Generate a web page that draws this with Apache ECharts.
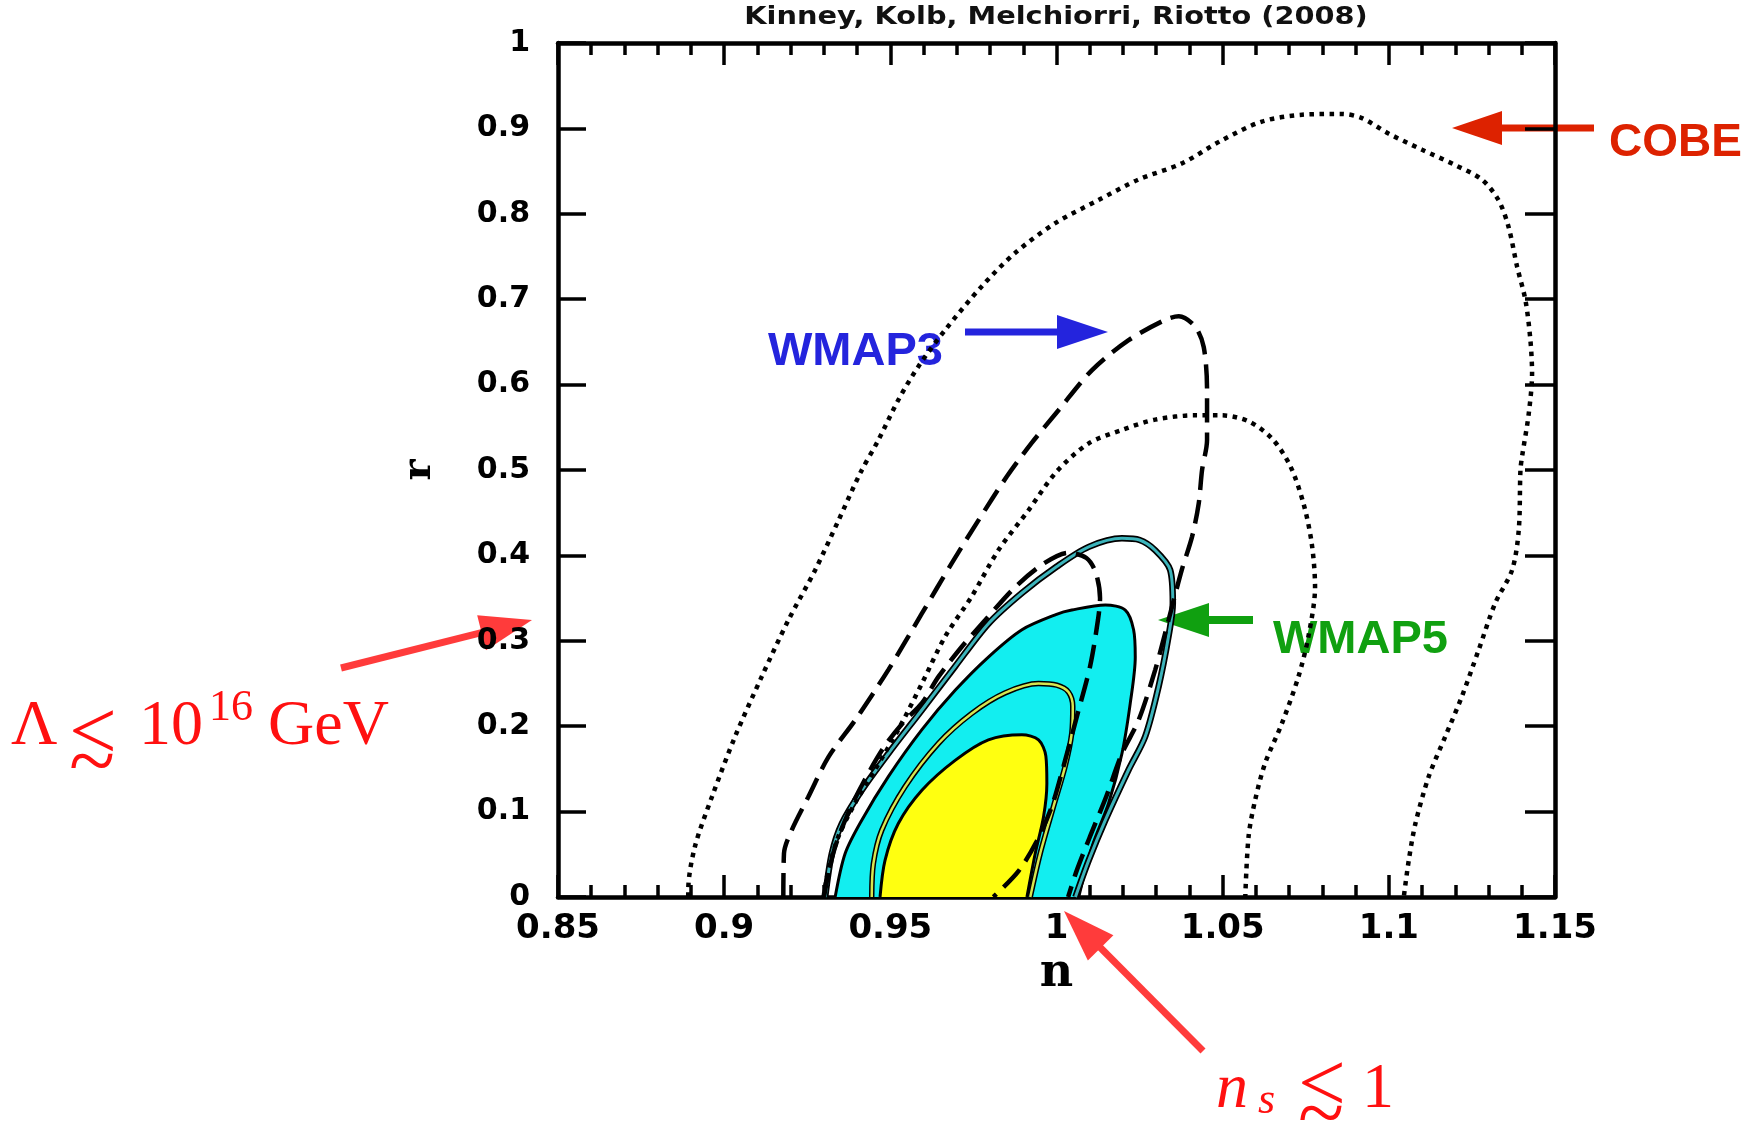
<!DOCTYPE html>
<html>
<head>
<meta charset="utf-8">
<script src="https://cdn.jsdelivr.net/npm/echarts@6/dist/echarts.min.js"></script>
<style>
  html, body { margin: 0; padding: 0; background: #fff; }
  #chart { width: 1750px; height: 1128px; }
</style>
</head>
<body>
<div id="chart"></div>
<script>
// axis ranges
const nRange = [0.85, 1.15]
const rRange = [0, 1]

// contours as [n, r]
const cobeOuter = [
  [0.8892, 0], [0.8892, 0.008], [0.8912, 0.059], [0.8963, 0.117], [0.9033, 0.188], [0.9113, 0.258],
  [0.9193, 0.324], [0.9274, 0.383], [0.9344, 0.441], [0.9409, 0.496], [0.9464, 0.535], [0.9524, 0.582],
  [0.9584, 0.621], [0.9665, 0.664], [0.9775, 0.715], [0.9875, 0.754], [0.9996, 0.789], [1.0126, 0.816],
  [1.0246, 0.840], [1.0377, 0.859], [1.0497, 0.886], [1.0618, 0.908], [1.0739, 0.916], [1.0859, 0.917],
  [1.0919, 0.912], [1.0999, 0.894], [1.1100, 0.875], [1.1200, 0.857], [1.1280, 0.840], [1.1330, 0.816],
  [1.1360, 0.785], [1.1386, 0.738], [1.1411, 0.699], [1.1426, 0.652], [1.1431, 0.613], [1.1421, 0.566],
  [1.1401, 0.516], [1.1396, 0.5], [1.1391, 0.430], [1.1371, 0.383], [1.1320, 0.344], [1.1270, 0.289],
  [1.1220, 0.235], [1.1170, 0.188], [1.1120, 0.141], [1.1080, 0.086], [1.1060, 0.043], [1.1045, 0]
]
const cobeInner = [
  [0.9299, 0], [0.9314, 0.032], [0.9344, 0.071], [0.9394, 0.110], [0.9454, 0.149], [0.9524, 0.196],
  [0.9595, 0.250], [0.9665, 0.305], [0.9745, 0.352], [0.9825, 0.406], [0.9916, 0.453], [1.0000, 0.498],
  [1.0096, 0.531], [1.0197, 0.547], [1.0297, 0.559], [1.0417, 0.564], [1.0497, 0.564], [1.0578, 0.557],
  [1.0648, 0.537], [1.0703, 0.505], [1.0743, 0.461], [1.0768, 0.414], [1.0778, 0.363], [1.0758, 0.305],
  [1.0728, 0.258], [1.0678, 0.203], [1.0628, 0.157], [1.0598, 0.114], [1.0578, 0.071], [1.0568, 0]
]
const wmap3Outer = [
  [0.9178, 0], [0.9180, 0.051], [0.9203, 0.078], [0.9253, 0.117], [0.9314, 0.164], [0.9394, 0.207],
  [0.9494, 0.266], [0.9595, 0.332], [0.9685, 0.391], [0.9765, 0.441], [0.9850, 0.492], [0.9926, 0.532],
  [1.0006, 0.570], [1.0107, 0.617], [1.0217, 0.652], [1.0328, 0.676], [1.0368, 0.680], [1.0417, 0.668],
  [1.0443, 0.644], [1.0453, 0.594], [1.0453, 0.535], [1.0438, 0.5], [1.0428, 0.461], [1.0408, 0.422],
  [1.0377, 0.383], [1.0337, 0.324], [1.0297, 0.266], [1.0247, 0.207], [1.0197, 0.168], [1.0150, 0.118],
  [1.0100, 0.070], [1.0060, 0.030], [1.0035, 0]
]
const wmap3Inner = [
  [0.9300, 0], [0.9315, 0.030], [0.9335, 0.060], [0.9375, 0.100], [0.9420, 0.135], [0.9480, 0.175],
  [0.9540, 0.205], [0.9595, 0.227], [0.9645, 0.258], [0.9715, 0.293], [0.9785, 0.324], [0.9876, 0.363],
  [0.9960, 0.390], [1.0035, 0.403], [1.0090, 0.397], [1.0118, 0.380], [1.0131, 0.350], [1.0125, 0.325],
  [1.0101, 0.270], [1.0061, 0.211], [1.0021, 0.153], [0.9985, 0.105], [0.9940, 0.065], [0.9885, 0.030],
  [0.9810, 0]
]
const wmap5Line95 = [
  [0.9304, 0], [0.9324, 0.051], [0.9354, 0.086], [0.9414, 0.125], [0.9494, 0.168], [0.9595, 0.219],
  [0.9695, 0.270], [0.9795, 0.320], [0.9896, 0.356], [1.0001, 0.387], [1.0097, 0.410], [1.0197, 0.420],
  [1.0250, 0.418], [1.0297, 0.406], [1.0342, 0.383], [1.0350, 0.344], [1.0337, 0.305], [1.0307, 0.246],
  [1.0267, 0.188], [1.0217, 0.149], [1.0147, 0.090], [1.0097, 0.043], [1.0057, 0]
]
const wmap5Fill95 = [
  [0.9334, 0], [0.9364, 0.051], [0.9414, 0.090], [0.9494, 0.141], [0.9595, 0.196], [0.9695, 0.242],
  [0.9795, 0.281], [0.9896, 0.313], [1.0000, 0.331], [1.0046, 0.336], [1.0147, 0.342], [1.0207, 0.336],
  [1.0232, 0.313], [1.0237, 0.281], [1.0222, 0.227], [1.0197, 0.168], [1.0157, 0.110], [1.0107, 0.059],
  [1.0067, 0]
]
const wmap5Line68 = [
  [0.9444, 0], [0.9449, 0.039], [0.9474, 0.078], [0.9544, 0.129], [0.9645, 0.180], [0.9745, 0.215],
  [0.9845, 0.239], [0.9946, 0.250], [1.0001, 0.248], [1.0036, 0.240], [1.0049, 0.223], [1.0046, 0.192],
  [1.0026, 0.153], [0.9991, 0.106], [0.9951, 0.051], [0.9921, 0]
]
const wmap5Fill68 = [
  [0.9469, 0], [0.9484, 0.043], [0.9524, 0.086], [0.9595, 0.125], [0.9695, 0.160], [0.9795, 0.184],
  [0.9896, 0.190], [0.9946, 0.184], [0.9968, 0.165], [0.9971, 0.133], [0.9961, 0.094], [0.9936, 0.051],
  [0.9911, 0]
]

const tickFont = '"DejaVu Sans", sans-serif'
const mathFont = '"Liberation Serif", "DejaVu Serif", serif'

const fmt = v => String(Math.round(v * 100) / 100)

const line = (data, color, width, type) => ({
  type: 'line', data, smooth: 0.3, symbol: 'none', silent: true,
  lineStyle: { color, width, type }
})
const fill = (data, color) => ({
  type: 'line', data, smooth: 0.3, symbol: 'none', silent: true,
  lineStyle: { color: '#000', width: 3 },
  areaStyle: { color, opacity: 1 }
})

const dotted = [4.5, 5.5]
const dashed = [24, 10]

function arrow (x1, y1, x2, y2, color, w, hl, hw) {
  const L = Math.hypot(x2 - x1, y2 - y1)
  const ux = (x2 - x1) / L, uy = (y2 - y1) / L
  const bx = x2 - ux * hl, by = y2 - uy * hl
  return [
    { type: 'line', silent: true, shape: { x1, y1, x2: bx + ux * 2, y2: by + uy * 2 }, style: { stroke: color, lineWidth: w } },
    { type: 'polygon', silent: true, shape: { points: [[x2, y2], [bx - uy * hw, by + ux * hw], [bx + uy * hw, by - ux * hw]] }, style: { fill: color } }
  ]
}
const txt = (text, x, y, font, color) => ({
  type: 'text', x, y, silent: true,
  style: { text, font, fill: color, align: 'left', verticalAlign: 'middle' }
})

const red = '#ff1010'
const arrowRed = '#ff3b3b'

const axisCommon = {
  type: 'value', min: nRange[0], max: nRange[1], interval: 0.05,
  axisLine: { show: true, onZero: false, lineStyle: { color: '#000', width: 4.5 } },
  axisTick: { show: true, inside: true, length: 22, lineStyle: { color: '#000', width: 3.5 } },
  minorTick: { show: true, splitNumber: 5, length: 12, lineStyle: { color: '#000', width: 3.5 } },
  splitLine: { show: false }
}
const yCommon = {
  type: 'value', min: rRange[0], max: rRange[1], interval: 0.1,
  axisLine: { show: true, onZero: false, lineStyle: { color: '#000', width: 4.5 } },
  axisTick: { show: true, inside: true, length: 28, lineStyle: { color: '#000', width: 3.5 } },
  splitLine: { show: false }
}

const chart = echarts.init(document.getElementById('chart'))
chart.setOption({
  animation: false,
  backgroundColor: '#fff',
  grid: { left: 558, right: 195, top: 43, bottom: 231 },
  xAxis: [
    Object.assign({}, axisCommon, {
      position: 'bottom',
      axisLabel: { margin: 15, formatter: fmt, color: '#000', fontFamily: tickFont, fontWeight: 'bold', fontSize: 34, showMinLabel: true, showMaxLabel: true },
      name: 'n', nameLocation: 'middle', nameGap: 52,
      nameTextStyle: { color: '#000', fontFamily: '"DejaVu Serif", serif', fontWeight: 'bold', fontSize: 46 }
    }),
    Object.assign({}, axisCommon, { position: 'top', axisLabel: { show: false } })
  ],
  yAxis: [
    Object.assign({}, yCommon, {
      position: 'left',
      axisLabel: { margin: 28, formatter: fmt, color: '#000', fontFamily: tickFont, fontWeight: 'bold', fontSize: 30 },
      name: 'r', nameLocation: 'middle', nameGap: 118, nameRotate: 90,
      nameTextStyle: { color: '#000', fontFamily: '"DejaVu Serif", serif', fontWeight: 'bold', fontSize: 40 }
    }),
    Object.assign({}, yCommon, { position: 'right', axisTick: Object.assign({}, yCommon.axisTick, { length: 30 }), axisLabel: { show: false } })
  ],
  series: [
    fill(wmap5Fill95, '#12eef0'),
    line(wmap5Line68, '#000', 5.5, 'solid'),
    line(wmap5Line68, '#d6e650', 2.5, 'solid'),
    fill(wmap5Fill68, '#ffff10'),
    line(wmap5Line95, '#000', 6.5, 'solid'),
    line(wmap5Line95, '#3cb4bb', 3, 'solid'),
    line(cobeOuter, '#000', 4.5, dotted),
    line(cobeInner, '#000', 4.5, dotted),
    line(wmap3Outer, '#000', 4.5, dashed),
    line(wmap3Inner, '#000', 4.5, dashed)
  ],
  graphic: [
    { type: 'text', x: 1056, y: 18, scaleX: 1.2, silent: true,
      style: { text: 'Kinney, Kolb, Melchiorri, Riotto (2008)', font: 'bold 24px "DejaVu Sans"', fill: '#111', align: 'center', verticalAlign: 'middle' } },
    ...arrow(1594, 128, 1452, 128, '#dd2200', 7, 50, 17),
    txt('COBE', 1609, 143, 'bold 46px "Liberation Sans"', '#dd2200'),
    ...arrow(965, 332, 1108, 332, '#2424dd', 7, 51, 17),
    txt('WMAP3', 768, 352, 'bold 47px "Liberation Sans"', '#2424dd'),
    ...arrow(1253, 620, 1158, 620, '#10a010', 8, 51, 17),
    txt('WMAP5', 1273, 640, 'bold 47px "Liberation Sans"', '#10a010'),
    ...arrow(341, 668, 532, 620, arrowRed, 7, 52, 18),
    txt('Λ', 11, 727, '64px ' + mathFont, red),
    txt('<', 69, 737, '85px ' + mathFont, red),
    txt('~', 69, 767, '85px ' + mathFont, red),
    txt('10', 139, 727, '64px ' + mathFont, red),
    txt('16', 209, 708, '44px ' + mathFont, red),
    txt('GeV', 268, 727, '64px ' + mathFont, red),
    ...arrow(1203, 1051, 1064, 911, arrowRed, 7, 52, 18),
    txt('n', 1216, 1090, 'italic 64px ' + mathFont, red),
    txt('s', 1258, 1101, 'italic 44px ' + mathFont, red),
    txt('<', 1298, 1089, '85px ' + mathFont, red),
    txt('~', 1298, 1119, '85px ' + mathFont, red),
    txt('1', 1362, 1090, '64px ' + mathFont, red)
  ]
})
</script>
</body>
</html>
